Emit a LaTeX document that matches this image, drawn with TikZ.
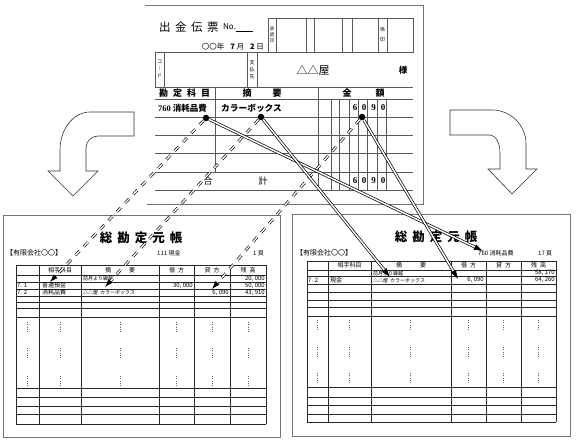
\documentclass[tikz,border=0pt]{standalone}
\usepackage{fontspec}
\setmainfont{Noto Sans CJK JP}
\newfontfamily\numfont{Liberation Serif}
\usetikzlibrary{arrows.meta}

\begin{document}
\begin{tikzpicture}[
  x=1pt, y=-1pt,
  page/.style={line width=0.9pt, draw=black!55},
  rule/.style={line width=0.6pt, draw=black!85},
  thinrule/.style={line width=0.5pt, draw=black!65},
  dots/.style={line width=0.7pt, draw=black!60, dash pattern=on 0.7pt off 1.6pt},
  txt/.style={inner sep=0pt, font=\fontsize{6}{6}\selectfont},
  memo/.style={inner sep=0pt, font=\fontsize{5}{5}\selectfont},
  vlabel/.style={inner sep=0pt, align=center, font=\fontsize{4.5}{6}\selectfont},
  head/.style={inner sep=0pt, font=\fontsize{9}{9}\selectfont\bfseries},
  ttl/.style={inner sep=0pt, font=\fontsize{12.5}{13}\selectfont\bfseries},
  digit/.style={inner sep=0pt, font=\fontsize{9}{9}\numfont\bfseries},
  dot/.style={circle, fill=black, inner sep=0pt, minimum size=6.5pt},
  bigarrow/.style={draw=black!80, line width=0.6pt, fill=white},
  copyline/.style={draw=black, double=white, line width=0.65pt, double distance=1.3pt, dash pattern=on 6pt off 6pt, -{Latex[length=8pt, width=5.5pt]}},
  postline/.style={draw=black, double=white, line width=0.7pt, double distance=1.5pt, -{Latex[length=9pt, width=6pt]}}
]
\useasboundingbox (0,0) rectangle (579,441);

\draw[page] (145,5) -- (423,5) -- (423,204) -- (147,204);
\node[anchor=west, inner sep=0pt, font=\fontsize{11.5}{12}\selectfont] (vtitle) at (159,27) {出\hspace{4.5pt}金\hspace{4.5pt}伝\hspace{4.5pt}票};
\node[anchor=west, inner sep=0pt, font=\fontsize{8}{8}\selectfont] (vno) at (223,28) {No.\underline{\hspace{17pt}}};
\node[anchor=east, inner sep=0pt, font=\fontsize{7.5}{8}\selectfont] (vdate) at (264,47) {〇〇年\hspace{6pt}{\bfseries 7} 月\hspace{6pt}{\bfseries 2} 日};
\draw[thinrule] (268,18) rectangle (413,52);
\foreach \x in {276,306,314,342,352,378,387} \draw[thinrule] (\x,18) -- (\x,52);
\node[vlabel] (vapprove) at (272,35) {承\\認\\印};
\node[vlabel, font=\fontsize{5}{10}\selectfont] (vstamp) at (382.5,34.5) {係\\印};
\draw[thinrule] (155,52) -- (413,52);
\draw[thinrule] (155,87) -- (413,87);
\foreach \x in {155,164,247,257} \draw[thinrule] (\x,52) -- (\x,87);
\node[vlabel, font=\fontsize{5}{7}\selectfont] (vcode) at (159.5,69) {コ\\｜\\ド};
\node[vlabel, font=\fontsize{5}{7}\selectfont] (vpayee) at (252,69.5) {支\\払\\先};
\node[inner sep=0pt, font=\fontsize{11}{11}\selectfont] (vshop) at (313,70) {△△屋};
\node[inner sep=0pt, font=\fontsize{8.5}{9}\selectfont\bfseries] (vsama) at (403,70) {様};
\node[head, anchor=west] (vhacct) at (159,93) {勘\hspace{5pt}定\hspace{5pt}科\hspace{5pt}目};
\node[head] (vhmemo1) at (247,93) {摘};
\node[head] (vhmemo2) at (277,93) {要};
\node[head] (vhamt1) at (347,93) {金};
\node[head] (vhamt2) at (380,93) {額};
\foreach \y in {99,117,135,153,172,190} \draw[thinrule] (155,\y) -- (413,\y);
\draw[thinrule] (215,87) -- (215,172);
\draw[thinrule] (318,87) -- (318,190);
\foreach \x in {331,339,349,358,367,377,386} \draw[thinrule] (\x,99) -- (\x,190);
\node[anchor=west, inner sep=0pt, font=\fontsize{8.5}{9}\selectfont\bfseries] (vacct) at (158,108) {{\numfont 760} 消耗品費};
\node[anchor=west, inner sep=0pt, font=\fontsize{8.7}{9}\selectfont\bfseries] (vmemo) at (221,108) {カラーボックス};
\node[digit] (va1) at (355,108) {6};
\node[digit] (va2) at (364,108) {0};
\node[digit] (va3) at (373.5,108) {9};
\node[digit] (va4) at (383,108) {0};
\node[head, font=\fontsize{9}{9}\selectfont] (vsum1) at (208,181) {合};
\node[head, font=\fontsize{9}{9}\selectfont] (vsum2) at (263,181) {計};
\node[digit] (vt1) at (355,181) {6};
\node[digit] (vt2) at (364,181) {0};
\node[digit] (vt3) at (373.5,181) {9};
\node[digit] (vt4) at (383,181) {0};

\draw[bigarrow] (134,112) -- (90,112) .. controls (73.4,112) and (60,129) .. (60,150) -- (60,171) -- (48,171) -- (73,196) -- (98,171) -- (86,171) -- (86,148) .. controls (86,141.4) and (91.4,136) .. (98,136) -- (134,136) -- cycle;
\draw[bigarrow] (450,110) -- (492,110) .. controls (510.8,110) and (526,125.2) .. (526,144) -- (526,169) -- (537,169) -- (512,194) -- (488,169) -- (500,169) -- (500,153) .. controls (500,143) and (495.5,135) .. (490,135) -- (450,135) -- cycle;

\draw[page] (3,215) rectangle (280,437);
\node[ttl] (ltitle) at (141,238) {総\hspace{5pt}勘\hspace{5pt}定\hspace{5pt}元\hspace{5pt}帳};
\node[txt, anchor=west, font=\fontsize{7}{7}\selectfont] (lfirm) at (6,253) {【有限会社〇〇】};
\node[txt, anchor=west] (lacct) at (157,253) {111 現金};
\node[txt, anchor=west] (lpage) at (253,253) {1 頁};
\foreach \y in {265,275,282,289,296,302,308,317,388,397,406,414,424} \draw[rule] (16,\y) -- (266,\y);
\foreach \x in {16,39,81,159,194,230,266} \draw[rule] (\x,265) -- (\x,424);
\foreach \x in {27,60,120,176,212,248} \foreach \y in {322,348,376} \draw[dots] (\x,\y) -- (\x,\y+10);
\node[txt] (lh1) at (60,270) {相手科目};
\node[txt] (lh2) at (120,270) {摘\hspace{18pt}要};
\node[txt] (lh3) at (176.5,270) {借\hspace{3pt}方};
\node[txt] (lh4) at (212,270) {貸\hspace{3pt}方};
\node[txt] (lh5) at (248,270) {残\hspace{3pt}高};
\node[memo, anchor=west] (lr1memo) at (83,278.5) {前月より繰越};
\node[txt, anchor=east] (lr1bal) at (265,278.5) {20, 000};
\node[txt, anchor=west] (lr2date) at (17,285.5) {7. 1};
\node[txt, anchor=west] (lr2acct) at (42,285.5) {普通預金};
\node[txt, anchor=east] (lr2dr) at (193,285.5) {30, 000};
\node[txt, anchor=east] (lr2bal) at (265,285.5) {50, 000};
\node[txt, anchor=west] (lr3date) at (17,292.5) {7. 2};
\node[txt, anchor=west] (lr3acct) at (42,292.5) {消耗品費};
\node[memo, anchor=west] (lr3memo) at (83,292.5) {△△屋\hspace{2pt}カラーボックス};
\node[txt, anchor=east] (lr3cr) at (229,292.5) {6, 090};
\node[txt, anchor=east] (lr3bal) at (265,292.5) {43, 910};

\draw[page] (292,214) rectangle (570,436);
\node[ttl] (rtitle) at (436,237) {総\hspace{5pt}勘\hspace{5pt}定\hspace{5pt}元\hspace{5pt}帳};
\node[txt, anchor=west, font=\fontsize{7}{7}\selectfont] (rfirm) at (296,253) {【有限会社〇〇】};
\node[txt, anchor=west] (racct) at (478,253) {760 消耗品費};
\node[txt, anchor=west] (rpage) at (538,253) {17 頁};
\foreach \y in {261,270,276.5,284,292,300,307,316,387,397,405,414,422} \draw[rule] (307,\y) -- (556,\y);
\foreach \x in {307,328,371,451,486,521,556} \draw[rule] (\x,261) -- (\x,422);
\foreach \x in {317,349,410,468,503,538} \foreach \y in {320,347,373} \draw[dots] (\x,\y) -- (\x,\y+10);
\node[txt] (rh1) at (349.5,265.5) {相手科目};
\node[txt] (rh2) at (411,265.5) {摘\hspace{18pt}要};
\node[txt] (rh3) at (468.5,265.5) {借\hspace{3pt}方};
\node[txt] (rh4) at (503.5,265.5) {貸\hspace{3pt}方};
\node[txt] (rh5) at (538.5,265.5) {残\hspace{3pt}高};
\node[memo, anchor=west] (rr1memo) at (373,273.2) {前月より繰越};
\node[txt, anchor=east] (rr1bal) at (555,273.2) {58, 170};
\node[txt, anchor=west] (rr2date) at (308,280.2) {7. 2};
\node[txt, anchor=west] (rr2acct) at (330,280.2) {現金};
\node[memo, anchor=west] (rr2memo) at (373,280.2) {△△屋\hspace{2pt}カラーボックス};
\node[txt, anchor=east] (rr2dr) at (484,280.2) {6, 090};
\node[txt, anchor=east] (rr2bal) at (555,280.2) {64, 260};

\coordinate (lacctin) at (50,282);
\coordinate (lmemoin) at (105,287);
\coordinate (lcrin) at (212,289);
\coordinate (racctin) at (483,251);
\coordinate (rmemoin) at (390,277);
\coordinate (rdrin) at (458,279);

\node[dot] (dacct) at (206,118) {};
\node[dot] (dmemo) at (261,117) {};
\node[dot] (damt) at (362,117) {};

\draw[copyline] (dacct) -- (lacctin);
\draw[copyline] (dmemo) -- (lmemoin);
\draw[copyline] (damt) -- (lcrin);
\draw[postline] (dacct) -- (racctin);
\draw[postline] (dmemo) -- (rmemoin);
\draw[postline] (damt) -- (rdrin);
\end{tikzpicture}
\end{document}
